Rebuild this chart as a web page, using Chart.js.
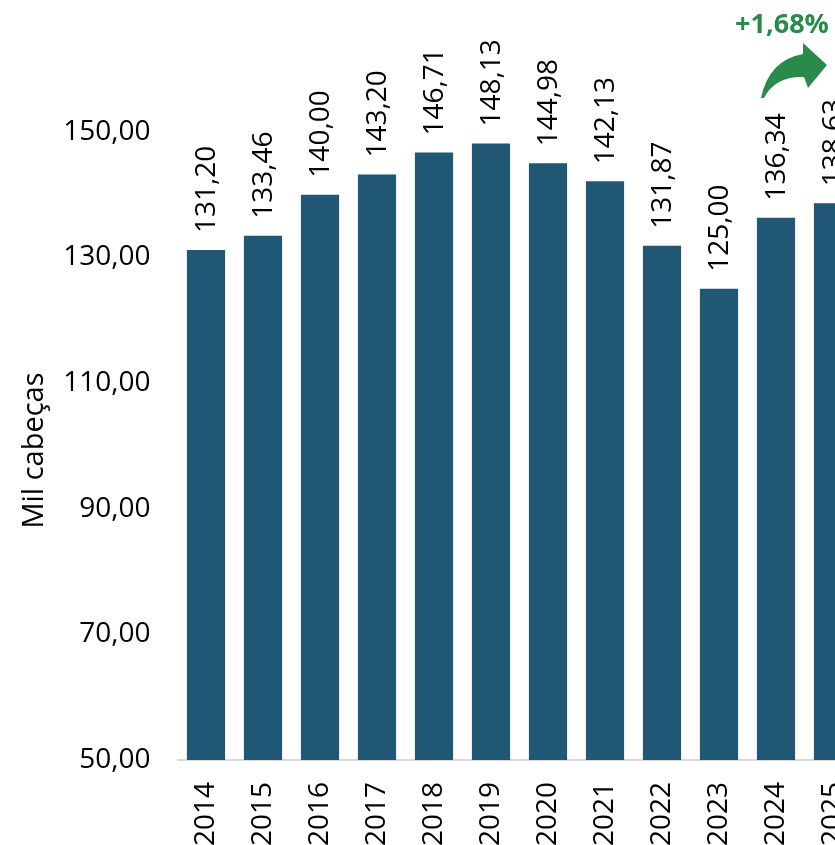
<!DOCTYPE html>
<html>
<head>
<meta charset="utf-8">
<script src="https://cdn.jsdelivr.net/npm/chart.js@4.4.0/dist/chart.umd.min.js"></script>
<style>
    html, body { margin: 0; padding: 0; background: #fff; overflow: hidden; }
    #wrap { width: 880px; height: 845px; }
</style>
</head>
<body>
<div id="wrap"><canvas id="rebanhoChart"></canvas></div>
<script>
// Rebanho - mil cabeças por ano
const years = ['2014', '2015', '2016', '2017', '2018', '2019', '2020', '2021', '2022', '2023', '2024', '2025'];
const heads = [131.20, 133.46, 140.00, 143.20, 146.71, 148.13, 144.98, 142.13, 131.87, 125.00, 136.34, 138.63];
const yTicks = [50, 70, 90, 110, 130, 150];
const growthLabel = '+1,68%';
const yTitle = 'Mil cabeças';

const fontFamily = '"Open Sans", "Noto Sans", sans-serif';
const barColor = '#1f5774';
const green = '#2a8a4a';

const fmt = v => v.toFixed(2).replace('.', ',');

// value labels above bars, rotated
const valueLabels = {
    id: 'valueLabels',
    afterDatasetsDraw(chart) {
        const ctx = chart.ctx;
        const meta = chart.getDatasetMeta(0);
        ctx.save();
        ctx.font = '28px ' + fontFamily;
        ctx.fillStyle = '#000';
        ctx.textAlign = 'left';
        ctx.textBaseline = 'middle';
        meta.data.forEach((bar, i) => {
            ctx.save();
            ctx.translate(bar.x + 1, bar.y - 17);
            ctx.rotate(-Math.PI / 2);
            ctx.fillText(fmt(heads[i]), 0, 0);
            ctx.restore();
        });
        ctx.restore();
    }
};

// y title + growth arrow
const extras = {
    id: 'extras',
    afterDraw(chart) {
        const ctx = chart.ctx;
        const area = chart.chartArea;
        ctx.save();
        ctx.font = '29px ' + fontFamily;
        ctx.fillStyle = '#000';
        ctx.textAlign = 'center';
        ctx.textBaseline = 'middle';
        ctx.translate(35, area.top + (area.bottom - area.top) / 2 + 36);
        ctx.rotate(-Math.PI / 2);
        ctx.fillText(yTitle, 0, 0);
        ctx.restore();

        const x10 = chart.scales.x.getPixelForValue(10);
        ctx.save();
        ctx.fillStyle = green;
        ctx.font = 'bold 27px ' + fontFamily;
        ctx.textAlign = 'center';
        ctx.textBaseline = 'middle';
        ctx.fillText(growthLabel, x10 + 6, 25);

        const ox = x10 - 15;
        ctx.beginPath();
        ctx.moveTo(ox, 98);
        ctx.quadraticCurveTo(ox + 8, 60, ox + 42, 54);
        ctx.lineTo(ox + 42, 43);
        ctx.lineTo(ox + 66, 65);
        ctx.lineTo(ox + 47, 88);
        ctx.lineTo(ox + 43, 77);
        ctx.quadraticCurveTo(ox + 14, 76, ox + 3, 98);
        ctx.closePath();
        ctx.fill();
        ctx.restore();
    }
};

const chart = new Chart(document.getElementById('rebanhoChart').getContext('2d'), {
    type: 'bar',
    data: {
        labels: years,
        datasets: [{
            data: heads,
            backgroundColor: barColor,
            borderWidth: 0,
            categoryPercentage: 1,
            barPercentage: 0.67
        }]
    },
    options: {
        responsive: true,
        maintainAspectRatio: false,
        animation: false,
        layout: { padding: { left: 0, right: 18.5, top: 69, bottom: 0 } },
        plugins: {
            legend: { display: false },
            tooltip: { enabled: false }
        },
        scales: {
            x: {
                grid: { display: false },
                border: { display: true, color: '#d9d9d9', width: 2 },
                ticks: {
                    color: '#000',
                    font: { family: fontFamily, size: 28 },
                    minRotation: 90,
                    maxRotation: 90,
                    autoSkip: false,
                    padding: 14
                },
                afterFit(scale) {
                    scale.height = 85;
                    scale.paddingLeft = 0;
                    scale.paddingRight = 0;
                }
            },
            y: {
                min: 50,
                max: 160,
                grid: { display: false },
                border: { display: false },
                afterBuildTicks(scale) {
                    scale.ticks = yTicks.map(v => ({ value: v }));
                },
                ticks: {
                    color: '#000',
                    font: { family: fontFamily, size: 28 },
                    padding: 19,
                    callback: v => fmt(v)
                },
                afterFit(scale) {
                    scale.width = 177.5;
                    scale.paddingTop = 0;
                    scale.paddingBottom = 0;
                }
            }
        }
    },
    plugins: [valueLabels, extras]
});
</script>
</body>
</html>
